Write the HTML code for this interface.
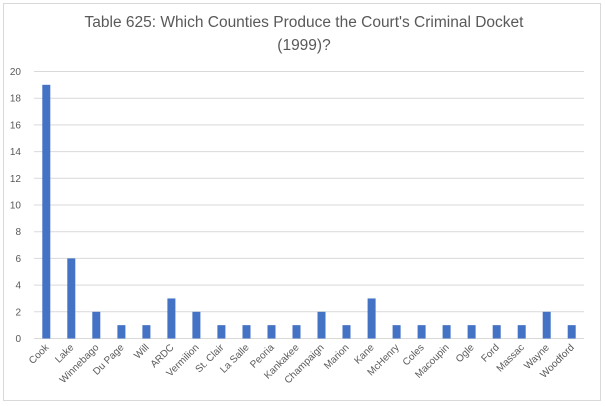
<!DOCTYPE html>
<html><head><meta charset="utf-8"><style>
html,body{margin:0;padding:0;background:#fff;}
svg{display:block;font-family:"Liberation Sans",sans-serif;}
</style></head><body>
<svg width="605" height="406" xmlns="http://www.w3.org/2000/svg">
<rect x="3.5" y="3.5" width="597" height="397" fill="#fff" stroke="#d9d9d9"/>
<text x="304" y="27" font-size="15.5" fill="#595959" text-anchor="middle">Table 625: Which Counties Produce the Court's Criminal Docket</text>
<text x="304" y="50" font-size="15.5" fill="#595959" text-anchor="middle">(1999)?</text>
<g stroke="#d9d9d9" stroke-width="1">
<line x1="34" x2="584" y1="338.5" y2="338.5"/>
<line x1="34" x2="584" y1="311.8" y2="311.8"/>
<line x1="34" x2="584" y1="285.1" y2="285.1"/>
<line x1="34" x2="584" y1="258.4" y2="258.4"/>
<line x1="34" x2="584" y1="231.7" y2="231.7"/>
<line x1="34" x2="584" y1="205" y2="205"/>
<line x1="34" x2="584" y1="178.3" y2="178.3"/>
<line x1="34" x2="584" y1="151.6" y2="151.6"/>
<line x1="34" x2="584" y1="124.9" y2="124.9"/>
<line x1="34" x2="584" y1="98.2" y2="98.2"/>
<line x1="34" x2="584" y1="71.5" y2="71.5"/>
</g>
<g font-size="10" fill="#595959" text-anchor="end">
<text x="21" y="342">0</text>
<text x="21" y="315.3">2</text>
<text x="21" y="288.6">4</text>
<text x="21" y="261.9">6</text>
<text x="21" y="235.2">8</text>
<text x="21" y="208.5">10</text>
<text x="21" y="181.8">12</text>
<text x="21" y="155.1">14</text>
<text x="21" y="128.4">16</text>
<text x="21" y="101.7">18</text>
<text x="21" y="75">20</text>
</g>
<g fill="#4472c4">
<rect x="42.3" y="84.8" width="8" height="253.7"/>
<rect x="67.3" y="258.4" width="8" height="80.1"/>
<rect x="92.3" y="311.8" width="8" height="26.7"/>
<rect x="117.4" y="325.15" width="8" height="13.35"/>
<rect x="142.4" y="325.15" width="8" height="13.35"/>
<rect x="167.4" y="298.45" width="8" height="40.05"/>
<rect x="192.4" y="311.8" width="8" height="26.7"/>
<rect x="217.4" y="325.15" width="8" height="13.35"/>
<rect x="242.5" y="325.15" width="8" height="13.35"/>
<rect x="267.5" y="325.15" width="8" height="13.35"/>
<rect x="292.5" y="325.15" width="8" height="13.35"/>
<rect x="317.5" y="311.8" width="8" height="26.7"/>
<rect x="342.5" y="325.15" width="8" height="13.35"/>
<rect x="367.6" y="298.45" width="8" height="40.05"/>
<rect x="392.6" y="325.15" width="8" height="13.35"/>
<rect x="417.6" y="325.15" width="8" height="13.35"/>
<rect x="442.6" y="325.15" width="8" height="13.35"/>
<rect x="467.6" y="325.15" width="8" height="13.35"/>
<rect x="492.7" y="325.15" width="8" height="13.35"/>
<rect x="517.7" y="325.15" width="8" height="13.35"/>
<rect x="542.7" y="311.8" width="8" height="26.7"/>
<rect x="567.7" y="325.15" width="8" height="13.35"/>
</g>
<g font-size="10" fill="#595959" text-anchor="end">
<text transform="translate(49.3 348) rotate(-45)">Cook</text>
<text transform="translate(74.3 348) rotate(-45)">Lake</text>
<text transform="translate(99.3 348) rotate(-45)">Winnebago</text>
<text transform="translate(124.4 348) rotate(-45)">Du Page</text>
<text transform="translate(149.4 348) rotate(-45)">Will</text>
<text transform="translate(174.4 348) rotate(-45)">ARDC</text>
<text transform="translate(199.4 348) rotate(-45)">Vermilion</text>
<text transform="translate(224.4 348) rotate(-45)">St. Clair</text>
<text transform="translate(249.5 348) rotate(-45)">La Salle</text>
<text transform="translate(274.5 348) rotate(-45)">Peoria</text>
<text transform="translate(299.5 348) rotate(-45)">Kankakee</text>
<text transform="translate(324.5 348) rotate(-45)">Champaign</text>
<text transform="translate(349.5 348) rotate(-45)">Marion</text>
<text transform="translate(374.6 348) rotate(-45)">Kane</text>
<text transform="translate(399.6 348) rotate(-45)">McHenry</text>
<text transform="translate(424.6 348) rotate(-45)">Coles</text>
<text transform="translate(449.6 348) rotate(-45)">Macoupin</text>
<text transform="translate(474.6 348) rotate(-45)">Ogle</text>
<text transform="translate(499.7 348) rotate(-45)">Ford</text>
<text transform="translate(524.7 348) rotate(-45)">Massac</text>
<text transform="translate(549.7 348) rotate(-45)">Wayne</text>
<text transform="translate(574.7 348) rotate(-45)">Woodford</text>
</g>
</svg>
</body></html>
